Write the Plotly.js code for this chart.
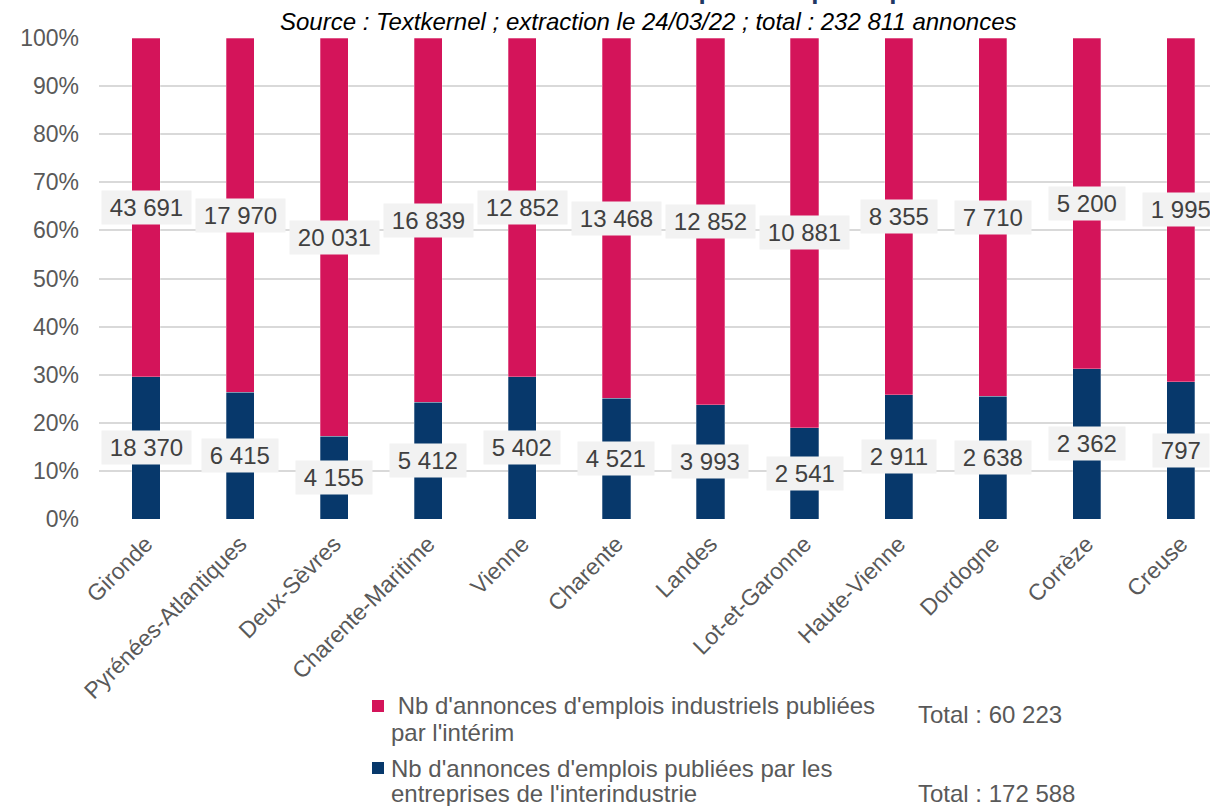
<!DOCTYPE html>
<html>
<head>
<meta charset="utf-8">
<script src="https://cdn.plot.ly/plotly-3.0.1.min.js"></script>
<style>html,body{margin:0;padding:0;background:#fff;}#chart{width:1210px;height:806px;}</style>
</head>
<body>
<div id="chart"></div>
<script>
const categories = ["Gironde","Pyrénées-Atlantiques","Deux-Sèvres","Charente-Maritime","Vienne","Charente","Landes","Lot-et-Garonne","Haute-Vienne","Dordogne","Corrèze","Creuse"];
const interindustrie = [18370, 6415, 4155, 5412, 5402, 4521, 3993, 2541, 2911, 2638, 2362, 797];
const interim = [43691, 17970, 20031, 16839, 12852, 13468, 12852, 10881, 8355, 7710, 5200, 1995];
const seriesNames = ["Nb d'annonces d'emplois publiées par les entreprises de l'interindustrie", "Nb d'annonces d'emplois industriels publiées par l'intérim"];
const legendLines = [
  [" Nb d'annonces d'emplois industriels publiées", "par l'intérim"],
  ["Nb d'annonces d'emplois publiées par les", "entreprises de l'interindustrie"]
];
const legendTotals = ["Total : 60 223", "Total : 172 588"];
const titleText = "Nombre d'annonces industrielles publiées par département";
const subtitleText = "Source : Textkernel ; extraction le 24/03/22 ; total : 232 811 annonces";

const NAVY = "#07386B", CRIMSON = "#D4145A";
const FONT = "Liberation Sans, Arial, sans-serif";
const fmt = v => String(v).replace(/\B(?=(\d{3})+(?!\d))/g, " ");

const traces = [
  {type:"bar", x:categories, y:interindustrie, name:seriesNames[0], marker:{color:NAVY, line:{color:"rgba(255,255,255,0.35)", width:0.8}}, width:0.3, hoverinfo:"none"},
  {type:"bar", x:categories, y:interim, name:seriesNames[1], marker:{color:CRIMSON, line:{color:"rgba(255,255,255,0.35)", width:0.8}}, width:0.3, hoverinfo:"none"}
];

const annotations = [];
const labelFont = {family:FONT, size:24, color:"#404040"};
const pad = s => "\u2009" + s + "\u2009";
categories.forEach((c, i) => {
  const tot = interindustrie[i] + interim[i];
  const p1 = interindustrie[i] / tot * 100;
  annotations.push({x:c, y:p1/2, xref:"x", yref:"y", text:pad(fmt(interindustrie[i])), showarrow:false, font:labelFont, bgcolor:"#F2F2F2", borderpad:3});
  annotations.push({x:c, y:p1 + (100-p1)/2, xref:"x", yref:"y", text:pad(fmt(interim[i])), showarrow:false, font:labelFont, bgcolor:"#F2F2F2", borderpad:3});
});

const pxToPaperY = py => (519 - py) / 481;
const pxToPaperX = px => (px - 99) / 1111;

// Title (mostly cut off at top) and subtitle
annotations.push({xref:"paper", yref:"paper", x:pxToPaperX(648), y:pxToPaperY(7), yanchor:"bottom", xanchor:"center", text:"<b>"+titleText+"</b>", showarrow:false, font:{family:FONT, size:26, color:"#1F3864"}});
annotations.push({xref:"paper", yref:"paper", x:pxToPaperX(648), y:pxToPaperY(21), yanchor:"middle", xanchor:"center", text:"<i>"+subtitleText+"</i>", showarrow:false, font:{family:FONT, size:24, color:"#000000"}});

// Custom legend
const legFont = {family:FONT, size:24, color:"#595959"};
const legText = (px, py, t) => annotations.push({xref:"paper", yref:"paper", x:pxToPaperX(px), y:pxToPaperY(py), xanchor:"left", yanchor:"middle", align:"left", text:t, showarrow:false, font:legFont});
legText(389, 705, legendLines[0][0]);
legText(389, 732, legendLines[0][1]);
legText(389, 768, legendLines[1][0]);
legText(389, 794, legendLines[1][1]);
legText(916, 714, legendTotals[0]);
legText(916, 794, legendTotals[1]);

const shapes = [
  {type:"rect", xref:"paper", yref:"paper", x0:pxToPaperX(372), x1:pxToPaperX(384), y0:pxToPaperY(712), y1:pxToPaperY(700), fillcolor:CRIMSON, line:{width:0}},
  {type:"rect", xref:"paper", yref:"paper", x0:pxToPaperX(372), x1:pxToPaperX(384), y0:pxToPaperY(774), y1:pxToPaperY(762), fillcolor:NAVY, line:{width:0}}
];

const layout = {
  width:1210, height:806,
  margin:{l:99, r:0, t:38, b:287},
  paper_bgcolor:"#ffffff", plot_bgcolor:"#ffffff",
  barmode:"stack", barnorm:"percent",
  showlegend:false,
  font:{family:FONT, color:"#595959"},
  xaxis:{type:"category", range:[-0.5, 11.31], tickangle:-45, tickfont:{size:23, color:"#595959"}, showgrid:false, zeroline:false, showline:false, ticks:"", ticklabelstandoff:6, fixedrange:true},
  yaxis:{range:[0,100], tickvals:[0,10,20,30,40,50,60,70,80,90,100], ticktext:["0%","10%","20%","30%","40%","50%","60%","70%","80%","90%","100%"], tickfont:{size:23, color:"#595959"}, gridcolor:"#D9D9D9", gridwidth:2, zeroline:false, showline:false, ticks:"", ticklen:0, ticklabelstandoff:19, fixedrange:true},
  annotations:annotations,
  shapes:shapes
};

Plotly.newPlot("chart", traces, layout, {displayModeBar:false, staticPlot:true});
</script>
</body>
</html>
